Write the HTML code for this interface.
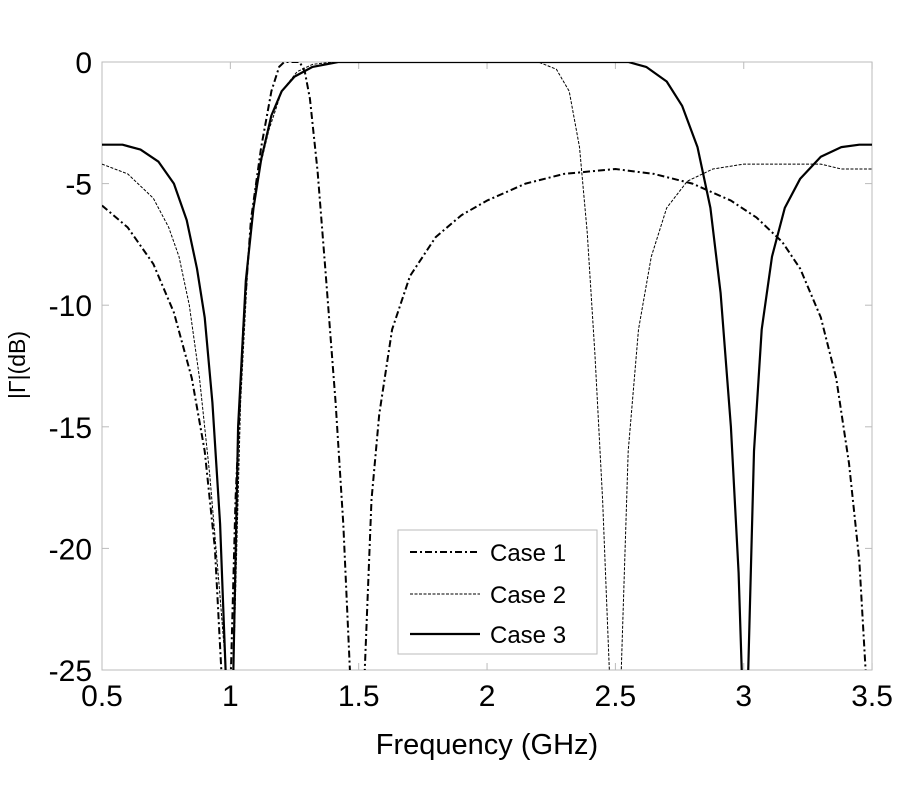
<!DOCTYPE html>
<html><head><meta charset="utf-8"><style>
body{margin:0;background:#fff}
svg text{font-family:"Liberation Sans",Arial,sans-serif;fill:#000}
</style></head><body>
<svg id="s" width="900" height="800" xmlns="http://www.w3.org/2000/svg">
<defs><clipPath id="c"><rect x="102" y="62" width="770" height="608"/></clipPath></defs>
<rect x="102" y="62" width="770" height="608" fill="#fff" stroke="#bbb" stroke-width="1"/>
<g id="ticks" stroke="#bbb" stroke-width="1"></g>
<g id="lbl" font-size="30"></g>
<g clip-path="url(#c)" fill="none" stroke="#000" id="curves"></g>
<text x="487" y="754" font-size="29" text-anchor="middle">Frequency (GHz)</text>
<text transform="translate(25,365) rotate(-90)" font-size="23" text-anchor="middle">|Γ|(dB)</text>
<rect x="398" y="530" width="199" height="124" fill="#fff" stroke="#bbb"/>
<line x1="410" y1="552" x2="480" y2="552" stroke="#000" stroke-width="2" stroke-dasharray="7,3,2,3"/>
<line x1="410" y1="594" x2="480" y2="594" stroke="#000" stroke-width="1" stroke-dasharray="3,1.5"/>
<line x1="410" y1="634" x2="480" y2="634" stroke="#000" stroke-width="2.2"/>
<text x="490" y="561" font-size="24">Case 1</text>
<text x="490" y="603" font-size="24">Case 2</text>
<text x="490" y="643" font-size="24">Case 3</text>
</svg>
<script>
const X=f=>102+(f-0.5)*256.7, Y=d=>62-d*24.32;
const NS="http://www.w3.org/2000/svg";
const t=document.getElementById('ticks'),l=document.getElementById('lbl');
function el(p,tag,a,txt){const e=document.createElementNS(NS,tag);for(const k in a)e.setAttribute(k,a[k]);if(txt)e.textContent=txt;p.appendChild(e);return e;}
[0.5,1,1.5,2,2.5,3,3.5].forEach(f=>{const x=X(f);el(t,'line',{x1:x,x2:x,y1:670,y2:663});el(t,'line',{x1:x,x2:x,y1:62,y2:69});el(l,'text',{x:x,y:706,'text-anchor':'middle'},String(f));});
[0,-5,-10,-15,-20,-25].forEach(d=>{const y=Y(d);el(t,'line',{x1:102,x2:109,y1:y,y2:y});el(t,'line',{x1:872,x2:865,y1:y,y2:y});el(l,'text',{x:92,y:y+11,'text-anchor':'end'},String(d));});
const c1=[[0.5,-5.9],[0.6,-6.8],[0.7,-8.3],[0.78,-10.3],[0.85,-13],[0.9,-16],[0.94,-20],[0.97,-26],[1.0,-26],[1.02,-18],[1.05,-11],[1.08,-6.5],[1.12,-3.5],[1.16,-1.2],[1.19,-0.2],[1.21,0],[1.27,0],[1.29,-0.4],[1.31,-1.5],[1.34,-4.5],[1.37,-8.5],[1.41,-14],[1.44,-19],[1.47,-26],[1.52,-26],[1.55,-18],[1.58,-14.5],[1.63,-11],[1.7,-8.8],[1.8,-7.2],[1.9,-6.3],[2.0,-5.7],[2.15,-5.0],[2.3,-4.6],[2.5,-4.4],[2.65,-4.6],[2.8,-5.0],[2.95,-5.7],[3.05,-6.4],[3.15,-7.4],[3.22,-8.5],[3.3,-10.5],[3.36,-13],[3.41,-16.5],[3.45,-20.5],[3.48,-26]];
const c2=[[0.5,-4.2],[0.6,-4.6],[0.7,-5.6],[0.76,-6.8],[0.8,-8],[0.84,-10],[0.88,-13],[0.92,-17],[0.96,-22],[0.99,-26],[1.01,-26],[1.04,-14],[1.07,-8],[1.1,-5],[1.15,-2.8],[1.2,-1.2],[1.26,-0.4],[1.32,-0.1],[1.4,0],[2.2,0],[2.27,-0.3],[2.32,-1.2],[2.36,-3.5],[2.39,-7],[2.42,-12],[2.45,-18],[2.48,-26],[2.52,-26],[2.55,-16],[2.59,-11],[2.64,-8],[2.7,-6],[2.78,-4.9],[2.88,-4.4],[3.0,-4.2],[3.3,-4.2],[3.38,-4.4],[3.5,-4.4]];
const c3=[[0.5,-3.4],[0.58,-3.4],[0.65,-3.6],[0.72,-4.1],[0.78,-5],[0.83,-6.5],[0.87,-8.5],[0.9,-10.5],[0.93,-14],[0.96,-19],[0.985,-26],[1.01,-26],[1.03,-15],[1.06,-9],[1.09,-6],[1.12,-4],[1.16,-2.2],[1.2,-1.2],[1.25,-0.6],[1.32,-0.2],[1.42,0],[2.55,0],[2.62,-0.2],[2.7,-0.8],[2.76,-1.8],[2.82,-3.5],[2.87,-6],[2.91,-9.5],[2.95,-15],[2.98,-21],[2.995,-26],[3.015,-26],[3.04,-16],[3.07,-11],[3.11,-8],[3.16,-6],[3.22,-4.8],[3.3,-3.9],[3.38,-3.5],[3.45,-3.4],[3.5,-3.4]];
const g=document.getElementById('curves');
function draw(d,a){el(g,'polyline',Object.assign({points:d.map(p=>X(p[0]).toFixed(1)+','+Y(p[1]).toFixed(1)).join(' '),'stroke-linejoin':'round'},a));}
draw(c2,{'stroke-width':1,'stroke-dasharray':'3,1.5'});
draw(c1,{'stroke-width':2,'stroke-dasharray':'7,3,2,3'});
draw(c3,{'stroke-width':2.2});
</script>
</body></html>
